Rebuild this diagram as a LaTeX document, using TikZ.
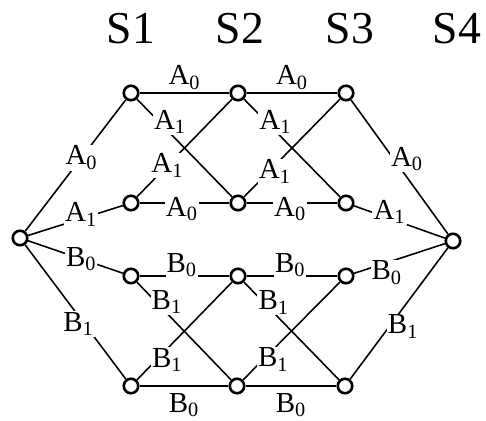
\documentclass[tikz,border=0pt]{standalone}
\usepackage{fontspec}
\setmainfont{Liberation Serif}
\usetikzlibrary{positioning}
\tikzset{>=latex}
\tikzset{
  vertex/.style={circle, draw, fill=white, line width=1.5pt, inner sep=0pt, minimum size=0.29cm},
  edgelab/.style={fill=white, inner sep=0.6pt, font=\fontsize{16.5}{16.5}\selectfont},
  stagelab/.style={font=\fontsize{26}{26}\selectfont},
  every path/.style={line width=0.9pt}
}
\newcommand{\labA}[1]{A\textsubscript{#1}}
\newcommand{\labB}[1]{B\textsubscript{#1}}

\begin{document}
\begin{tikzpicture}[x=0.02cm, y=-0.02cm]
  \useasboundingbox (0,0) rectangle (486,421);
  % stages
  \node[stagelab] (s1) at (131,29) {S1};
  \node[stagelab] (s2) at (240,29) {S2};
  \node[stagelab] (s3) at (350,29) {S3};
  \node[stagelab] (s4) at (457,29) {S4};
  % vertices
  \node[vertex] (l) at (20,238) {};
  \node[vertex] (r) at (453,241) {};
  \node[vertex] (a1) at (131,93) {};
  \node[vertex] (a2) at (238,93) {};
  \node[vertex] (a3) at (346,93) {};
  \node[vertex] (m1) at (131,203) {};
  \node[vertex] (m2) at (238,203) {};
  \node[vertex] (m3) at (346,203) {};
  \node[vertex] (b1) at (131,276) {};
  \node[vertex] (b2) at (238,276) {};
  \node[vertex] (b3) at (346,276) {};
  \node[vertex] (c1) at (131,386) {};
  \node[vertex] (c2) at (237,386) {};
  \node[vertex] (c3) at (345,386) {};
  % left fan
  \draw (l) -- node[edgelab, pos=0.56] {\labA0} (a1);
  \draw (l) -- node[edgelab, pos=0.56, yshift=0.08cm] {\labA1} (m1);
  \draw (l) -- node[edgelab, pos=0.56] {\labB0} (b1);
  \draw (l) -- node[edgelab, pos=0.53, yshift=-0.16cm] {\labB1} (c1);
  % upper half
  \draw (a1) -- node[edgelab, midway, above=1pt] {\labA0} (a2);
  \draw (a2) -- node[edgelab, midway, above=1pt] {\labA0} (a3);
  \draw (m1) -- node[edgelab, pos=0.47, yshift=-0.12cm] {\labA0} (m2);
  \draw (m2) -- node[edgelab, pos=0.48, yshift=-0.12cm] {\labA0} (m3);
  \draw (a1) -- node[edgelab, pos=0.29, xshift=0.11cm, yshift=0.11cm] {\labA1} (m2);
  \draw (m1) -- node[edgelab, pos=0.32] {\labA1} (a2);
  \draw (a2) -- node[edgelab, pos=0.28, xshift=0.09cm, yshift=0.09cm] {\labA1} (m3);
  \draw (m2) -- node[edgelab, pos=0.29, xshift=0.06cm, yshift=-0.06cm] {\labA1} (a3);
  % lower half
  \draw (b1) -- node[edgelab, pos=0.47, yshift=0.22cm] {\labB0} (b2);
  \draw (b2) -- node[edgelab, pos=0.48, yshift=0.22cm] {\labB0} (b3);
  \draw (c1) -- node[edgelab, midway, below=3pt] {\labB0} (c2);
  \draw (c2) -- node[edgelab, midway, below=3pt] {\labB0} (c3);
  \draw (b1) -- node[edgelab, pos=0.26, xshift=0.11cm, yshift=0.11cm] {\labB1} (c2);
  \draw (c1) -- node[edgelab, pos=0.26, xshift=0.11cm, yshift=-0.11cm] {\labB1} (b2);
  \draw (b2) -- node[edgelab, pos=0.26, xshift=0.10cm, yshift=0.10cm] {\labB1} (c3);
  \draw (c2) -- node[edgelab, pos=0.26, xshift=0.10cm, yshift=-0.10cm] {\labB1} (b3);
  % right fan
  \draw (a3) -- node[edgelab, pos=0.49, xshift=0.17cm, yshift=0.13cm] {\labA0} (r);
  \draw (m3) -- node[edgelab, pos=0.39, yshift=0.13cm] {\labA1} (r);
  \draw (b3) -- node[edgelab, pos=0.36, yshift=-0.2cm] {\labB0} (r);
  \draw (c3) -- node[edgelab, pos=0.45, xshift=0.18cm, yshift=-0.13cm] {\labB1} (r);
\end{tikzpicture}
\end{document}
